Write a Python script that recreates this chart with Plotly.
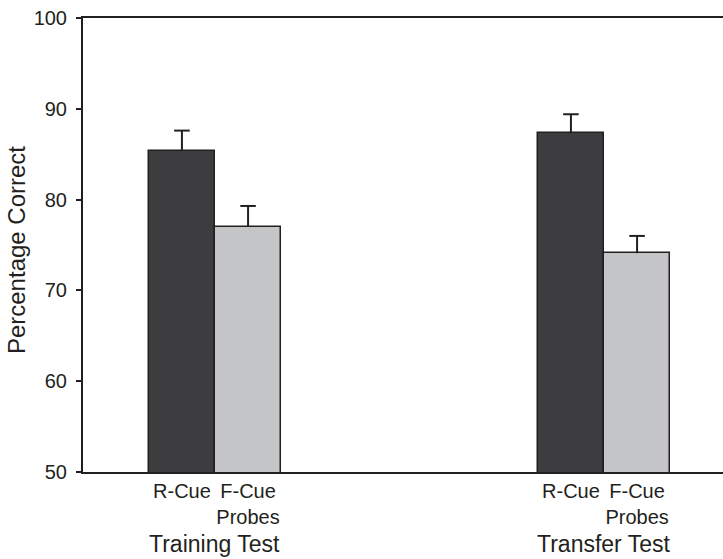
import plotly.graph_objects as go

groups = ["Training Test", "Transfer Test"]
conditions = ["R-Cue", "F-Cue"]
cond_ticktext = ["R-Cue", "F-Cue<br>Probes"]
r_cue = [85.4, 87.3]
f_cue = [77.0, 74.1]
r_cue_err = [2.2, 2.1]
f_cue_err = [2.3, 1.9]
y_ticks = [50, 60, 70, 80, 90, 100]

DARK = "#231f20"
FONT = "Liberation Sans, Arial, Helvetica, sans-serif"
bar_w = 0.17
off = bar_w / 2
cap = 0.02
gx = [0, 1]

fig = go.Figure()
ex, ey = [], []
for vals, errs, fill, sign in [(r_cue, r_cue_err, "#3d3d3f", -1), (f_cue, f_cue_err, "#c4c5c7", 1)]:
    xs = [g + sign * off for g in gx]
    fig.add_trace(go.Bar(
        x=xs, y=vals, width=bar_w,
        marker=dict(color=fill, line=dict(color=DARK, width=1.5)),
        showlegend=False, hoverinfo="skip",
    ))
    for x, v, e in zip(xs, vals, errs):
        ex += [x, x, None, x - cap, x + cap, None]
        ey += [v, v + e, None, v + e, v + e, None]

fig.add_trace(go.Scatter(x=ex, y=ey, mode="lines", line=dict(color=DARK, width=2),
                         showlegend=False, hoverinfo="skip"))

tickvals = []
ticktext = []
for g in gx:
    tickvals += [g - off, g + off]
    ticktext += cond_ticktext

for g, name in zip(gx, groups):
    fig.add_annotation(x=g, xref="x", y=-0.1905, yref="paper", text=name, showarrow=False,
                       xanchor="center", yanchor="bottom", borderpad=0,
                       font=dict(size=23, color=DARK, family=FONT))

fig.add_annotation(x=-0.103, xref="paper", y=0.489, yref="paper", text="Percentage Correct",
                   textangle=-90, showarrow=False, xanchor="center", yanchor="middle",
                   font=dict(size=24, color=DARK, family=FONT))

fig.update_layout(
    width=723, height=559,
    margin=dict(l=83, r=0, t=18, b=87),
    paper_bgcolor="white", plot_bgcolor="white",
    font=dict(family=FONT, color=DARK),
    bargap=0,
    xaxis=dict(range=[-0.3393, 1.3059], tickvals=tickvals, ticktext=ticktext,
               showline=True, linecolor=DARK, linewidth=2, mirror=True,
               showgrid=False, zeroline=False, ticks="",
               tickfont=dict(size=20, color=DARK, family=FONT)),
    yaxis=dict(range=[50, 100], tickvals=y_ticks, showline=True, linecolor=DARK, linewidth=2,
               showgrid=False, zeroline=False, ticks="outside", ticklen=5, tickwidth=2,
               tickcolor=DARK, ticklabelstandoff=5, tickfont=dict(size=20, color=DARK, family=FONT)),
)

fig.write_html("out.html", config={"displayModeBar": False},
               post_script="document.body.style.margin='0';document.body.style.overflow='hidden';")
